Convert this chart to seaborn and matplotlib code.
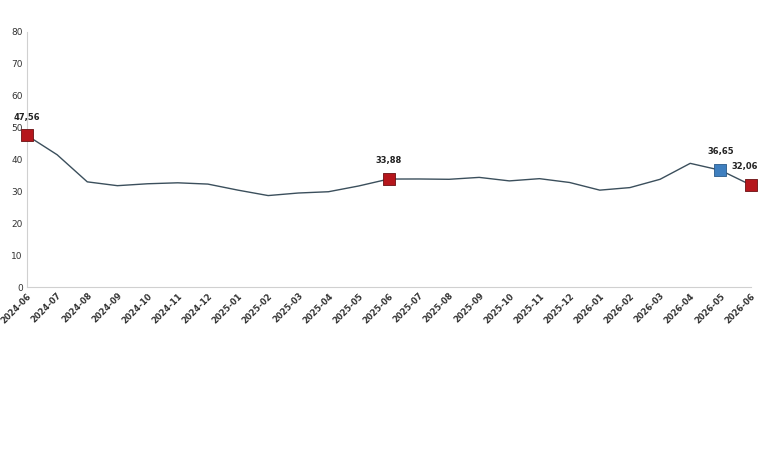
import matplotlib
matplotlib.use("Agg")
import matplotlib.pyplot as plt
import seaborn as sns
import pandas as pd

months = ["2024-06", "2024-07", "2024-08", "2024-09", "2024-10", "2024-11", "2024-12",
          "2025-01", "2025-02", "2025-03", "2025-04", "2025-05", "2025-06", "2025-07",
          "2025-08", "2025-09", "2025-10", "2025-11", "2025-12", "2026-01", "2026-02",
          "2026-03", "2026-04", "2026-05", "2026-06"]
values = [47.56, 41.5, 33.0, 31.8, 32.4, 32.7, 32.3,
          30.4, 28.7, 29.5, 29.9, 31.7, 33.88, 33.9,
          33.8, 34.4, 33.3, 34.0, 32.8, 30.4, 31.2,
          33.8, 38.8, 36.65, 32.06]
red_points = ["2024-06", "2025-06", "2026-06"]
blue_points = ["2026-05"]
y_ticks = [0, 10, 20, 30, 40, 50, 60, 70, 80]

sns.set_theme(style="white")
plt.rcParams["font.family"] = ["DejaVu Sans"]

df = pd.DataFrame({"month": months, "value": values})
df["x"] = range(len(months))

fig = plt.figure(figsize=(7.6, 4.5), dpi=100)
ax = fig.add_axes([0.0355, 0.362, 0.952, 0.567])

sns.lineplot(data=df, x="x", y="value", ax=ax, color="#3b4f5c", linewidth=1.0)

red = df[df["month"].isin(red_points)]
blue = df[df["month"].isin(blue_points)]
sns.scatterplot(data=red, x="x", y="value", ax=ax, marker="s", s=80,
                color="#b5161c", edgecolor="#6b1012", linewidth=0.6, zorder=5, clip_on=False)
sns.scatterplot(data=blue, x="x", y="value", ax=ax, marker="s", s=80,
                color="#3f7fbf", edgecolor="#2a5a8a", linewidth=0.6, zorder=5, clip_on=False)

last_x = len(months) - 1
for _, r in pd.concat([red, blue]).iterrows():
    dx = -4 if r["x"] == last_x else 0
    ax.annotate(f"{r['value']:.2f}".replace(".", ","), (r["x"], r["value"]),
                xytext=(dx, 10), textcoords="offset points", ha="center", va="bottom",
                fontsize=6, fontweight="bold", color="#222222", annotation_clip=False)

ax.set_xlim(0, len(months) - 1)
ax.set_ylim(0, 80)
ax.set_yticks(y_ticks)
ax.set_yticklabels([str(t) for t in y_ticks], fontsize=6.5, color="#333333")
ax.set_xticks(df["x"])
ax.set_xticklabels(months, rotation=45, ha="right", rotation_mode="anchor",
                   fontsize=6, fontweight="bold", color="#333333")
ax.tick_params(axis="both", length=0, pad=3)
ax.set_xlabel("")
ax.set_ylabel("")
for s in ["top", "right"]:
    ax.spines[s].set_visible(False)
for s in ["left", "bottom"]:
    ax.spines[s].set_color("#d0d0d0")
    ax.spines[s].set_linewidth(0.8)

fig.savefig("out.png", dpi=100)
